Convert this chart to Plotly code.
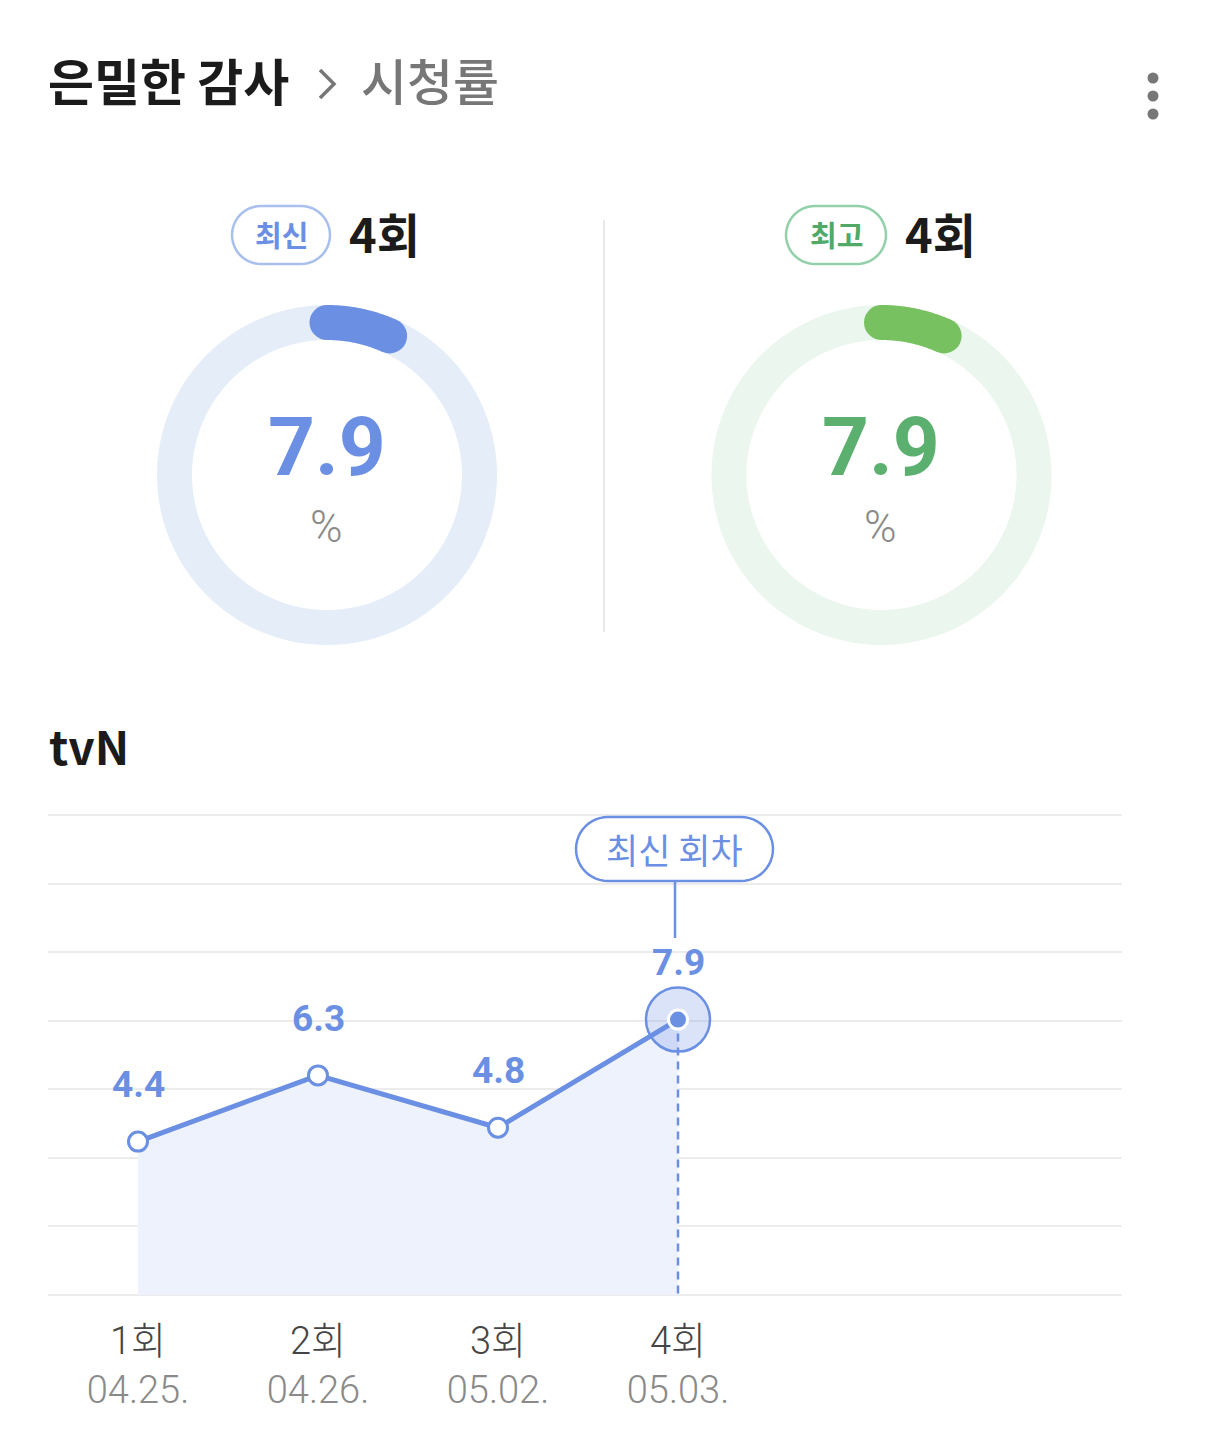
import numpy as np
import plotly.graph_objects as go

# page is 1206x1429; the html body has an 8px margin, so the figure is made
# 16px smaller and all layout positions below are given in page pixels.
PAGE_W, PAGE_H = 1206, 1429
OFF = 8
FW, FH = PAGE_W - 2 * OFF, PAGE_H - 2 * OFF

# ---------------- data ----------------
episodes = [1, 2, 3, 4]
episode_labels = ["1회", "2회", "3회", "4회"]
air_dates = ["04.25.", "04.26.", "05.02.", "05.03."]
ratings = [4.4, 6.3, 4.8, 7.9]

latest_episode = "4회"
latest_rating = 7.9
best_episode = "4회"
best_rating = 7.9

title_main = "은밀한 감사"
title_sub = "시청률"
channel = "tvN"

# ---------------- style ----------------
BLUE = "#6b8fe3"
BLUE_RING = "#e5edf9"
GREEN = "#77c160"
GREEN_TEXT = "#5bb06f"
GREEN_RING = "#ebf6ef"
CJK = "Noto Sans CJK KR"
NUM = "Roboto, Noto Sans CJK KR"

# line chart plot area (page pixels)
PX0, PX1 = 48, 1122
PY_TOP, PY_BOT = 815, 1295
X_RANGE = [0.5, 0.5 + (PX1 - PX0) / 180.0]
Y_MAX = 13.77
Y_PAD = 0.03


def px(x):
    return (x - OFF) / FW


def py(y):
    return 1 - (y - OFF) / FH


def xdata_to_px(v):
    return PX0 + (v - X_RANGE[0]) / (X_RANGE[1] - X_RANGE[0]) * (PX1 - PX0)


def pill_path(x0, y0, x1, y1):
    r = (y1 - y0) / 2
    cy = (y0 + y1) / 2
    pts = []
    for a in np.linspace(-90, 90, 25):
        t = np.radians(a)
        pts.append((x1 - r + r * np.cos(t), cy + r * np.sin(t)))
    for a in np.linspace(90, 270, 25):
        t = np.radians(a)
        pts.append((x0 + r + r * np.cos(t), cy + r * np.sin(t)))
    return "M " + " L ".join(f"{a:.2f},{b:.2f}" for a, b in pts) + " Z"


def text(x, y, s, font, xanchor="center"):
    return dict(x=px(x), y=py(y), xref="paper", yref="paper", text=s,
                showarrow=False, xanchor=xanchor, yanchor="middle", font=font)


fig = go.Figure()
annotations = []
shapes = []

# ---------------- line chart ----------------
fig.add_trace(go.Scatter(
    x=episodes, y=ratings, mode="lines", line=dict(width=0),
    fill="tozeroy", fillcolor="#eef2fc", hoverinfo="skip", showlegend=False,
    xaxis="x", yaxis="y"))

fig.add_trace(go.Scatter(
    x=[episodes[-1], episodes[-1]], y=[ratings[-1], 0], mode="lines",
    line=dict(color=BLUE, width=2.5, dash="8px,6px"),
    hoverinfo="skip", showlegend=False, xaxis="x", yaxis="y"))

fig.add_trace(go.Scatter(
    x=[episodes[-1]], y=[ratings[-1]], mode="markers",
    marker=dict(size=64, color="rgba(107,143,227,0.25)",
                line=dict(color=BLUE, width=2.5)),
    hoverinfo="skip", showlegend=False, xaxis="x", yaxis="y"))

marker_fill = ["white"] * (len(episodes) - 1) + [BLUE]
marker_line = [BLUE] * (len(episodes) - 1) + ["white"]
fig.add_trace(go.Scatter(
    x=episodes, y=ratings, mode="lines+markers",
    line=dict(color=BLUE, width=5),
    marker=dict(size=19, color=marker_fill, line=dict(color=marker_line, width=3)),
    hoverinfo="skip", showlegend=False, xaxis="x", yaxis="y"))

ticktext = [
    f"<span style='color:#454545'>{e}</span><br><span style='color:#8a8a8a'>{d}</span>"
    for e, d in zip(episode_labels, air_dates)
]

for e, v in zip(episodes, ratings):
    annotations.append(dict(
        x=e, y=v, xref="x", yref="y", text=f"<b>{v}</b>", showarrow=False,
        xanchor="center", yanchor="middle",
        yshift=57, font=dict(family=NUM, size=37, color=BLUE)))

# latest-episode label pill
ex = xdata_to_px(episodes[-1])
shapes.append(dict(type="path", path=pill_path(ex - 102, 817, ex + 95, 881),
                   xref="x2", yref="y2", line=dict(color=BLUE, width=2.5),
                   fillcolor="white"))
shapes.append(dict(type="line", xref="x2", yref="y2", x0=ex - 3, x1=ex - 3,
                   y0=881, y1=938, line=dict(color=BLUE, width=2.5)))
annotations.append(text(ex - 4, 848, "최신 회차", dict(family=CJK, size=35, color=BLUE)))

# ---------------- header ----------------
annotations.append(text(46, 79, f"<b>{title_main}</b>",
                        dict(family=CJK, size=50, color="#1b1b1b"), xanchor="left"))
shapes.append(dict(type="path", path="M 320,70 L 334,84 L 320,98",
                   xref="x2", yref="y2", line=dict(color="#777777", width=3.5)))
annotations.append(text(359, 79, title_sub,
                        dict(family=CJK, size=50, color="#777777", weight=500),
                        xanchor="left"))

# three dots menu
fig.add_trace(go.Scatter(x=[1153, 1153, 1153], y=[78, 96, 114], mode="markers",
                         marker=dict(size=11, color="#777777"),
                         hoverinfo="skip", showlegend=False, xaxis="x2", yaxis="y2"))

# divider
shapes.append(dict(type="line", xref="x2", yref="y2", x0=604, x1=604, y0=220, y1=632,
                   line=dict(color="#e9e9e9", width=2)))

# ---------------- gauges ----------------
R = 152.5
RING_W = 35


def gauge(cx, cy, value, ring_color, arc_color, num_color, badge_text,
          badge_line, badge_text_color, episode_text, badge_x0, badge_x1):
    t = np.linspace(0, 2 * np.pi, 721)
    fig.add_trace(go.Scatter(x=cx + R * np.sin(t), y=cy - R * np.cos(t), mode="lines",
                             line=dict(color=ring_color, width=RING_W, simplify=False),
                             hoverinfo="skip", showlegend=False, xaxis="x2", yaxis="y2"))
    end = np.radians(360 * value / 100 - 4.2)
    a = np.linspace(0, end, 80)
    fig.add_trace(go.Scatter(x=cx + R * np.sin(a), y=cy - R * np.cos(a), mode="lines",
                             line=dict(color=arc_color, width=RING_W, simplify=False),
                             hoverinfo="skip", showlegend=False, xaxis="x2", yaxis="y2"))
    fig.add_trace(go.Scatter(x=[cx + R * np.sin(a[0]), cx + R * np.sin(a[-1])],
                             y=[cy - R * np.cos(a[0]), cy - R * np.cos(a[-1])],
                             mode="markers",
                             marker=dict(size=RING_W, color=arc_color, line=dict(width=0)),
                             hoverinfo="skip", showlegend=False, xaxis="x2", yaxis="y2"))
    annotations.append(text(cx, 447, f"<b>{value}</b>",
                            dict(family=NUM, size=82, color=num_color)))
    annotations.append(text(cx - 1, 527, "%",
                            dict(family=NUM, size=44, color="#8a8a8a", weight=300)))
    shapes.append(dict(type="path", path=pill_path(badge_x0, 206, badge_x1, 264),
                       xref="x2", yref="y2", line=dict(color=badge_line, width=2.5),
                       fillcolor="white"))
    annotations.append(text((badge_x0 + badge_x1) / 2, 234, f"<b>{badge_text}</b>",
                            dict(family=CJK, size=29, color=badge_text_color)))
    annotations.append(text(badge_x1 + 17, 233, episode_text,
                            dict(family=CJK, size=47, color="#1b1b1b", weight=600),
                            xanchor="left"))


gauge(327, 475, latest_rating, BLUE_RING, BLUE, BLUE, "최신", "#a9c0ee", "#6b8fe3",
      latest_episode, 232, 330)
gauge(881.5, 475, best_rating, GREEN_RING, GREEN, GREEN_TEXT, "최고", "#93d1aa", "#4faa68",
      best_episode, 786, 886)

# channel label
annotations.append(text(47, 745, f"<b>{channel}</b>",
                        dict(family=CJK, size=46, color="#1b1b1b"), xanchor="left"))

fig.update_layout(
    width=FW, height=FH, margin=dict(l=0, r=0, t=0, b=0),
    paper_bgcolor="white", plot_bgcolor="rgba(0,0,0,0)",
    showlegend=False,
    xaxis=dict(domain=[px(PX0), px(PX1)], range=X_RANGE, tickvals=episodes,
               ticktext=ticktext, showgrid=False, zeroline=False, showline=False,
               ticks="", ticklabelstandoff=19,
               tickfont=dict(family=NUM, size=38, weight=300), fixedrange=True),
    yaxis=dict(domain=[py(PY_BOT + Y_PAD * 34.86), py(PY_TOP - Y_PAD * 34.86)],
               range=[-Y_PAD, Y_MAX + Y_PAD],
               tickvals=list(np.linspace(0, Y_MAX, 8)), showticklabels=False,
               showgrid=True, gridcolor="#ececec", gridwidth=2, zeroline=False,
               showline=False, ticks="", fixedrange=True),
    xaxis2=dict(domain=[0, 1], range=[OFF, OFF + FW], visible=False, fixedrange=True,
                anchor="y2"),
    yaxis2=dict(domain=[0, 1], range=[OFF + FH, OFF], visible=False, fixedrange=True,
                anchor="x2"),
    shapes=shapes,
    annotations=annotations,
)

fig.write_html("out.html")
